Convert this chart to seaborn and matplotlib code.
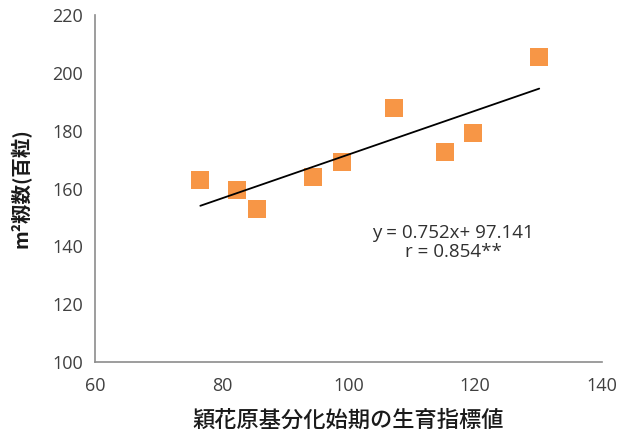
import numpy as np
import pandas as pd
import matplotlib
matplotlib.use('Agg')
import matplotlib.pyplot as plt
import seaborn as sns

# growth index at panicle initiation vs spikelet number per m2
index_vals = [76.6, 82.4, 85.6, 94.4, 98.9, 107.2, 115.3, 119.7, 130.1]
spikelets = [163.0, 159.5, 152.9, 164.0, 169.2, 187.7, 172.7, 179.3, 205.4]
x_ticks = [60, 80, 100, 120, 140]
y_ticks = [100, 120, 140, 160, 180, 200, 220]

data = pd.DataFrame({'index': index_vals, 'spikelets': spikelets})

sns.set_style('white')
plt.rcParams['font.family'] = ['Noto Sans CJK JP', 'DejaVu Sans']

fig = plt.figure(figsize=(6.18, 4.32), dpi=100)
ax = fig.add_axes([0.154, 0.162, 0.82, 0.803])

sns.regplot(x='index', y='spikelets', data=data, ci=None, truncate=True, ax=ax,
            marker='s',
            scatter_kws={'s': 180, 'color': '#F79646', 'alpha': 1, 'linewidths': 0, 'zorder': 2},
            line_kws={'color': 'black', 'linewidth': 1.3, 'zorder': 3})

ax.set_xlim(60, 140)
ax.set_ylim(100, 220)
ax.set_xticks(x_ticks)
ax.set_yticks(y_ticks)

for s in ['top', 'right']:
    ax.spines[s].set_visible(False)
for s in ['left', 'bottom']:
    ax.spines[s].set_color('#8c8c8c')
    ax.spines[s].set_linewidth(1.2)
ax.tick_params(axis='both', direction='out', length=5, width=1.2, color='#8c8c8c',
               labelsize=13, labelcolor='#404040')
ax.tick_params(axis='x', pad=6)
for lab in ax.get_xticklabels() + ax.get_yticklabels():
    lab.set_family(['Open Sans', 'DejaVu Sans'])

ax.set_xlabel('穎花原基分化始期の生育指標値', fontsize=16, fontweight='medium',
              color='#1a1a1a', labelpad=10)
ax.set_ylabel('m²籾数(百粒)', fontsize=14, fontweight='bold', color='#1a1a1a',
              labelpad=15)

ax.text(116.5, 144.5, 'y = 0.752x+ 97.141', ha='center', va='center', fontsize=13.5,
        color='#303030', family=['Open Sans', 'DejaVu Sans'])
ax.text(116.5, 138.2, 'r = 0.854**', ha='center', va='center', fontsize=13.5,
        color='#303030', family=['Open Sans', 'DejaVu Sans'])

fig.savefig('out.png', dpi=100)
